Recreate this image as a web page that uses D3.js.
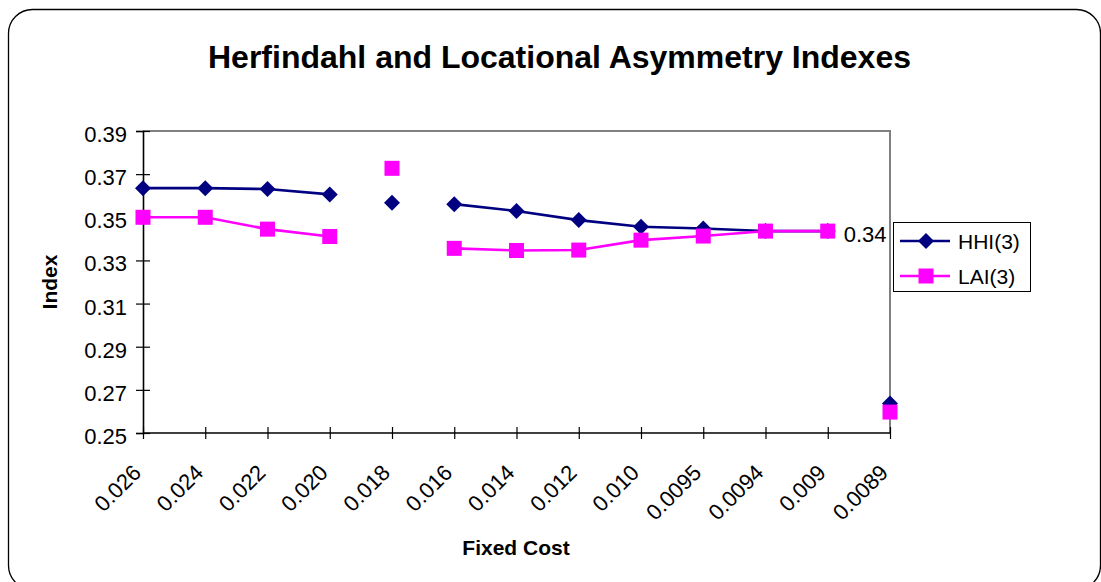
<!DOCTYPE html>
<html><head><meta charset="utf-8">
<script src="https://cdn.jsdelivr.net/npm/d3@7"></script>
<style>
body{margin:0;background:#fff}
svg{display:block}
text{font-family:"Liberation Sans",Arial,Helvetica,sans-serif;fill:#000}
</style>
</head><body>
<svg id="chart" width="1101" height="582"></svg>
<script>
// ---- data ----
const categories = ["0.026","0.024","0.022","0.020","0.018","0.016","0.014","0.012","0.010","0.0095","0.0094","0.009","0.0089"];
const hhiValues  = [0.3635,0.3635,0.3631,0.3606,0.3567,0.3561,0.3529,0.3487,0.3456,0.3448,0.3436,0.3436,0.2637];
const laiValues  = [0.3500,0.3500,0.3445,0.3411,0.3727,0.3356,0.3346,0.3348,0.3394,0.3413,0.3436,0.3436,0.2597];
const gapBefore  = ["0.018","0.016","0.0089"];   // line not drawn into these categories
const yTickValues = [0.25,0.27,0.29,0.31,0.33,0.35,0.37,0.39];
const seriesNames = ["HHI(3)","LAI(3)"];
const dataLabelCategory = "0.009";
const dataLabelText = "0.34";
const titleText = "Herfindahl and Locational Asymmetry Indexes";
const xTitle = "Fixed Cost";
const yTitle = "Index";

// ---- setup ----
const svg = d3.select("#chart");
const plot = {left:143, right:890, top:131, bottom:433};
const colors = {"HHI(3)":"#000080","LAI(3)":"#FF00FF"};
const FS = 21, TFS = 22;

const x = d3.scalePoint().domain(categories).range([plot.left, plot.right]).padding(0);
const y = d3.scaleLinear().domain([0.25,0.39]).range([plot.bottom, plot.top]);

// outer rounded border
svg.append("rect").attr("x",8.5).attr("y",9.5).attr("width",1092).attr("height",580)
  .attr("rx",24).attr("ry",24).attr("fill","#fff").attr("stroke","#000").attr("stroke-width",1.3);

// title
svg.append("text").attr("x",559.5).attr("y",68).attr("text-anchor","middle")
  .attr("font-size",32).attr("font-weight","bold").text(titleText);

// plot frame (top & right, gray)
svg.append("path").attr("d",`M${plot.left},${plot.top}H${plot.right}V${plot.bottom}`)
  .attr("fill","none").attr("stroke","#808080").attr("stroke-width",2);

// y axis
const yAxis = svg.append("g").attr("transform",`translate(${plot.left},0)`)
  .call(d3.axisLeft(y).tickValues(yTickValues).tickFormat(d3.format(".2f")).tickSize(7));
yAxis.select(".domain").attr("stroke","#000").attr("stroke-width",1.6);
yAxis.selectAll(".tick line").attr("x1",-7).attr("x2",7).attr("stroke","#000").attr("stroke-width",1.2);
yAxis.selectAll(".tick text").attr("x",-16).attr("dy",null).attr("y",10.5)
  .attr("font-size",TFS).attr("font-family",null).attr("fill","#000");

// x axis
const xAxis = svg.append("g").attr("transform",`translate(0,${plot.bottom})`)
  .call(d3.axisBottom(x).tickSize(6));
xAxis.select(".domain").attr("stroke","#000").attr("stroke-width",1.6).attr("d",`M${plot.left},0H${plot.right}`);
xAxis.selectAll(".tick line").attr("y1",-6).attr("y2",6).attr("stroke","#000").attr("stroke-width",1.2);
xAxis.selectAll(".tick text").attr("x",null).attr("y",null).attr("dy",null)
  .attr("text-anchor","end").attr("font-size",TFS).attr("font-family",null).attr("fill","#000")
  .attr("transform","translate(-1,41) rotate(-45)");

// axis titles
svg.append("text").attr("x",516).attr("y",555).attr("text-anchor","middle")
  .attr("font-size",FS).attr("font-weight","bold").text(xTitle);
svg.append("text").attr("transform","translate(57,282) rotate(-90)").attr("text-anchor","middle")
  .attr("font-size",FS).attr("font-weight","bold").text(yTitle);

// series
const series = [
  {name:seriesNames[0], values:hhiValues, shape:"diamond"},
  {name:seriesNames[1], values:laiValues, shape:"square"}
];
function drawMarker(g, shape, cx, cy, color){
  if(shape==="diamond"){
    const r=8;
    g.append("path").attr("d",`M${cx},${cy-r}L${cx+r},${cy}L${cx},${cy+r}L${cx-r},${cy}Z`).attr("fill",color);
  } else {
    const s=15;
    g.append("rect").attr("x",cx-s/2).attr("y",cy-s/2).attr("width",s).attr("height",s).attr("fill",color);
  }
}
series.forEach(s=>{
  const pts = categories.map((c,i)=>({c, v:s.values[i]}));
  const segs=[]; let cur=[];
  pts.forEach(p=>{
    if(gapBefore.includes(p.c) && cur.length){ segs.push(cur); cur=[]; }
    cur.push(p);
  });
  if(cur.length) segs.push(cur);
  const line = d3.line().x(p=>x(p.c)).y(p=>y(p.v));
  const g = svg.append("g");
  segs.filter(sg=>sg.length>1).forEach(sg=>{
    g.append("path").attr("d",line(sg)).attr("fill","none").attr("stroke",colors[s.name]).attr("stroke-width",2.6);
  });
  pts.forEach(p=>drawMarker(g, s.shape, x(p.c), y(p.v), colors[s.name]));
});

// data label
svg.append("text").attr("x",x(dataLabelCategory)+16).attr("y",y(laiValues[categories.indexOf(dataLabelCategory)])+11)
  .attr("font-size",TFS).text(dataLabelText);

// legend
const lg = svg.append("g");
lg.append("rect").attr("x",893.5).attr("y",222.5).attr("width",137).attr("height",69)
  .attr("fill","#fff").attr("stroke","#000").attr("stroke-width",1);
series.forEach((s,i)=>{
  const cy = 241 + i*35;
  lg.append("line").attr("x1",900).attr("x2",950).attr("y1",cy).attr("y2",cy)
    .attr("stroke",colors[s.name]).attr("stroke-width",2.6);
  drawMarker(lg, s.shape, 926, cy, colors[s.name]);
  lg.append("text").attr("x",958).attr("y",cy+7.5).attr("font-size",FS).text(s.name);
});
</script>
</body></html>
